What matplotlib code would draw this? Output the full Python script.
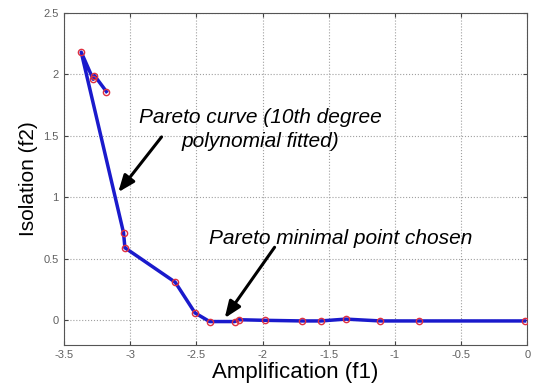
import matplotlib
matplotlib.use("Agg")

import matplotlib.pyplot as plt

# Pareto points (f1 = amplification, f2 = isolation), in drawing order
f1 = [-3.18, -3.27, -3.28, -3.37, -3.05, -3.04, -2.66, -2.51, -2.40,
      -2.21, -2.18, -1.98, -1.70, -1.56, -1.37, -1.11, -0.82, -0.02]
f2 = [1.86, 1.99, 1.96, 2.18, 0.71, 0.59, 0.31, 0.06, -0.01,
      -0.01, 0.005, 0.0, -0.005, -0.005, 0.01, -0.005, -0.005, -0.005]

xticks = [-3.5, -3, -2.5, -2, -1.5, -1, -0.5, 0]
yticks = [0, 0.5, 1, 1.5, 2, 2.5]

plt.rcParams["font.family"] = ["Liberation Sans", "DejaVu Sans"]

fig = plt.figure(figsize=(5.38, 3.88), dpi=100)
ax = fig.add_axes([0.119, 0.111, 0.861, 0.856])

ax.plot(f1, f2, color="#1a1acc", linewidth=2.5, zorder=2)
ax.plot(f1, f2, linestyle="none", marker="o", markersize=4.5,
        markerfacecolor="none", markeredgecolor="#e03040",
        markeredgewidth=1.0, zorder=3)

ax.set_xlim(-3.5, 0)
ax.set_ylim(-0.2, 2.5)
ax.set_xticks(xticks)
ax.set_xticklabels(["%g" % t for t in xticks])
ax.set_yticks(yticks)
ax.set_yticklabels(["%g" % t for t in yticks])
ax.tick_params(axis="both", labelsize=8, labelcolor="#606060",
               direction="in", length=3, color="#444444",
               top=True, right=True, pad=4)
ax.grid(True, linestyle=":", color="#a0a0a0", linewidth=0.8)
for s in ax.spines.values():
    s.set_color("#555555")
    s.set_linewidth(0.8)

ax.set_xlabel("Amplification (f1)", fontsize=16, labelpad=1)
ax.set_ylabel("Isolation (f2)", fontsize=15, labelpad=4)

arrow = dict(arrowstyle="-|>,head_length=1.0,head_width=0.4",
             color="black", lw=2.2, shrinkA=0, shrinkB=0)

ax.text(-2.015, 1.603, "Pareto curve (10th degree", fontsize=15,
        style="italic", ha="center", va="baseline")
ax.text(-2.015, 1.407, "polynomial fitted)", fontsize=15,
        style="italic", ha="center", va="baseline")
ax.annotate("", xy=(-3.090, 1.042), xytext=(-2.763, 1.491), arrowprops=arrow)

ax.text(-1.411, 0.624, "Pareto minimal point chosen", fontsize=15,
        style="italic", ha="center", va="baseline")
ax.annotate("", xy=(-2.286, 0.018), xytext=(-1.909, 0.594), arrowprops=arrow)

fig.savefig("out.png", dpi=100)
plt.close(fig)
